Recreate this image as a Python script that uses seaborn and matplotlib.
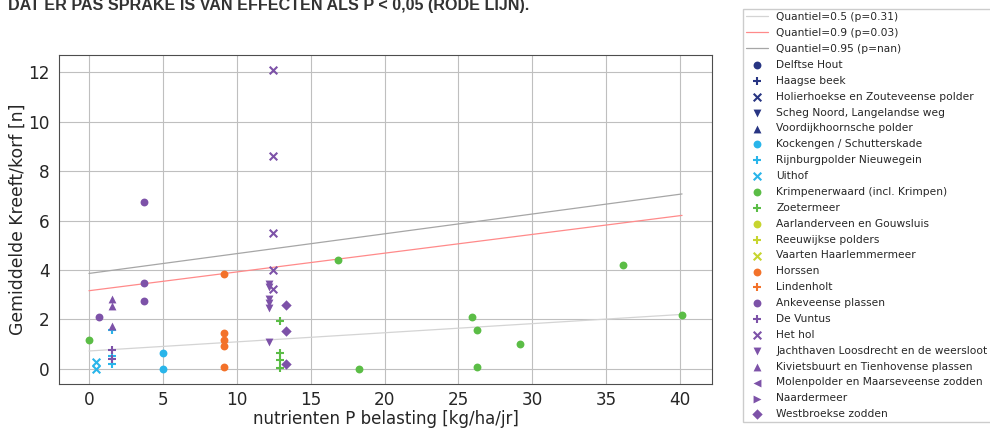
import numpy as np
import pandas as pd
import matplotlib
matplotlib.use("Agg")
import matplotlib.pyplot as plt
import seaborn as sns

# Legend order: location name, marker, colour group
locations = [
    "Delftse Hout", "Haagse beek", "Holierhoekse en Zouteveense polder",
    "Scheg Noord, Langelandse weg", "Voordijkhoornsche polder",
    "Kockengen / Schutterskade", "Rijnburgpolder Nieuwegein", "Uithof",
    "Krimpenerwaard (incl. Krimpen)", "Zoetermeer",
    "Aarlanderveen en Gouwsluis", "Reeuwijkse polders", "Vaarten Haarlemmermeer",
    "Horssen", "Lindenholt",
    "Ankeveense plassen", "De Vuntus", "Het hol",
    "Jachthaven Loosdrecht en de weersloot", "Kivietsbuurt en Tienhovense plassen",
    "Molenpolder en Maarseveense zodden", "Naardermeer", "Westbroekse zodden",
]
markers = ["o", "+", "x", "v", "^",
           "o", "+", "x",
           "o", "+",
           "o", "+", "x",
           "o", "+",
           "o", "+", "x", "v", "^", "<", ">", "D"]
groups = [0, 0, 0, 0, 0, 1, 1, 1, 2, 2, 3, 3, 3, 4, 4, 5, 5, 5, 5, 5, 5, 5, 5]
group_colors = ["#283583", "#29b5ea", "#5bbd46", "#c7d52f", "#f3722a", "#7d52a8"]

# measured points (location, P load, mean crayfish per trap)
point_loc = (["Krimpenerwaard (incl. Krimpen)"] * 9 + ["Uithof"] * 2
             + ["Ankeveense plassen"] * 4
             + ["Kivietsbuurt en Tienhovense plassen"] * 3
             + ["Rijnburgpolder Nieuwegein"] * 3 + ["De Vuntus"] * 2
             + ["Kockengen / Schutterskade"] * 2 + ["Horssen"] * 5
             + ["Het hol"] * 5 + ["Jachthaven Loosdrecht en de weersloot"] * 6
             + ["Westbroekse zodden"] * 3 + ["Zoetermeer"] * 4)
point_p = [0.0, 16.84, 18.28, 25.89, 26.25, 26.25, 29.16, 36.11, 40.13,
           0.5, 0.5,
           0.65, 3.7, 3.7, 3.7,
           1.53, 1.53, 1.53,
           1.53, 1.53, 1.53, 1.53, 1.53,
           5.0, 5.0,
           9.14, 9.14, 9.14, 9.14, 9.14,
           12.42, 12.42, 12.42, 12.42, 12.46,
           12.2, 12.2, 12.2, 12.2, 12.2, 12.2,
           13.32, 13.32, 13.32,
           12.96, 12.96, 12.96, 12.96]
point_kreeft = [1.17, 4.42, 0.0, 2.10, 1.56, 0.08, 1.0, 4.19, 2.18,
                0.27, 0.0,
                2.10, 6.77, 3.48, 2.74,
                2.82, 2.55, 1.74,
                1.58, 0.52, 0.20, 0.77, 0.38,
                0.65, 0.0,
                3.84, 1.44, 1.17, 0.92, 0.08,
                12.1, 8.6, 5.5, 4.01, 3.23,
                3.43, 3.30, 2.82, 2.65, 2.48, 1.10,
                2.58, 1.52, 0.18,
                1.94, 0.65, 0.35, 0.04]

# quantile regression fits
q_labels = ["Quantiel=0.5 (p=0.31)", "Quantiel=0.9 (p=0.03)", "Quantiel=0.95 (p=nan)"]
q_intercept = [0.72, 3.16, 3.86]
q_slope = [0.0369, 0.076, 0.0802]
q_colors = ["#d4d4d4", "#ff8a8a", "#a6a6a6"]

df = pd.DataFrame({"loc": point_loc, "P": point_p, "kreeft": point_kreeft})

sns.set_style("whitegrid", {"axes.edgecolor": "0.3", "grid.color": "0.75",
                            "axes.linewidth": 1.2})
plt.rcParams["font.family"] = ["DejaVu Sans"]

fig = plt.figure(figsize=(9.9, 4.28), dpi=100)
ax = fig.add_axes([0.0599, 0.1035, 0.659, 0.768])

x_line = np.array([0.0, df["P"].max()])
for lab, b0, b1, col in zip(q_labels, q_intercept, q_slope, q_colors):
    sns.lineplot(x=x_line, y=b0 + b1 * x_line, color=col, lw=0.9,
                 label=lab, ax=ax, zorder=2)

for name, m, g in zip(locations, markers, groups):
    col = group_colors[g]
    sub = df[df["loc"] == name]
    if m in ("+", "x"):
        size, lw = 30, 1.5
    else:
        size, lw = 32, 0
    if m == "D":
        size = 28
    if len(sub):
        sns.scatterplot(data=sub, x="P", y="kreeft", marker=m, color=col,
                        s=size, linewidth=lw, label=name, ax=ax, zorder=3)
    else:
        ax.scatter([], [], marker=m, color=col, s=size, linewidth=lw, label=name)

ax.set_xlabel("nutrienten P belasting [kg/ha/jr]", fontsize=12.0, labelpad=0.5)
ax.set_ylabel("Gemiddelde Kreeft/korf [n]", fontsize=12.4, labelpad=1)
ax.set_xticks([0, 5, 10, 15, 20, 25, 30, 35, 40])
ax.set_yticks([0, 2, 4, 6, 8, 10, 12])
ax.tick_params(labelsize=12.2, length=0, pad=7)
ax.tick_params(axis="x", pad=5.5)

handles, labels = ax.get_legend_handles_labels()
ax.legend(handles, labels, loc="upper left",
          bbox_to_anchor=(743 / 990, 1 - 9 / 428), bbox_transform=fig.transFigure,
          borderaxespad=0, fontsize=7.7, labelspacing=0.55, borderpad=0.3,
          handlelength=2.0, handletextpad=0.8, frameon=True, fancybox=False,
          edgecolor="0.8", framealpha=1)

fig.text(8 / 990, 1 - 10 / 428,
         "DAT ER PAS SPRAKE IS VAN EFFECTEN ALS P < 0,05 (RODE LIJN).",
         fontsize=11.6, fontweight="bold", family=["Liberation Sans", "DejaVu Sans"],
         color="#333333", va="baseline")

fig.savefig("out.png", dpi=100)
